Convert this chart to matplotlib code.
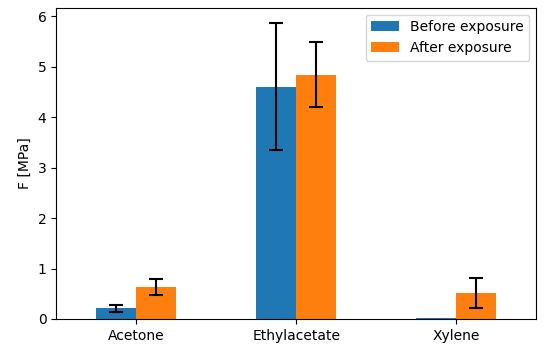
import matplotlib.pyplot as plt
import numpy as np

solvents = ['Acetone', 'Ethylacetate', 'Xylene']
before = [0.21, 4.60, 0.02]
before_err = [0.065, 1.26, np.nan]
after = [0.63, 4.84, 0.52]
after_err = [0.16, 0.64, 0.30]

x = np.arange(len(solvents))
w = 0.25

fig = plt.figure(figsize=(5.5, 3.49), dpi=100)
ax = fig.add_axes([0.102, 0.086, 0.873, 0.892])

ax.bar(x - w/2, before, w, yerr=before_err, capsize=5, color='#1f77b4',
       label='Before exposure', error_kw=dict(elinewidth=1.5, capthick=1.5))
ax.bar(x + w/2, after, w, yerr=after_err, capsize=5, color='#ff7f0e',
       label='After exposure', error_kw=dict(elinewidth=1.5, capthick=1.5))

ax.set_xticks(x)
ax.set_xticklabels(solvents)
ax.set_xlim(-0.5, 2.5)
ax.set_ylim(0, 6.17)
ax.set_ylabel('F [MPa]')
ax.legend(loc='upper right')

fig.savefig('out.png')
